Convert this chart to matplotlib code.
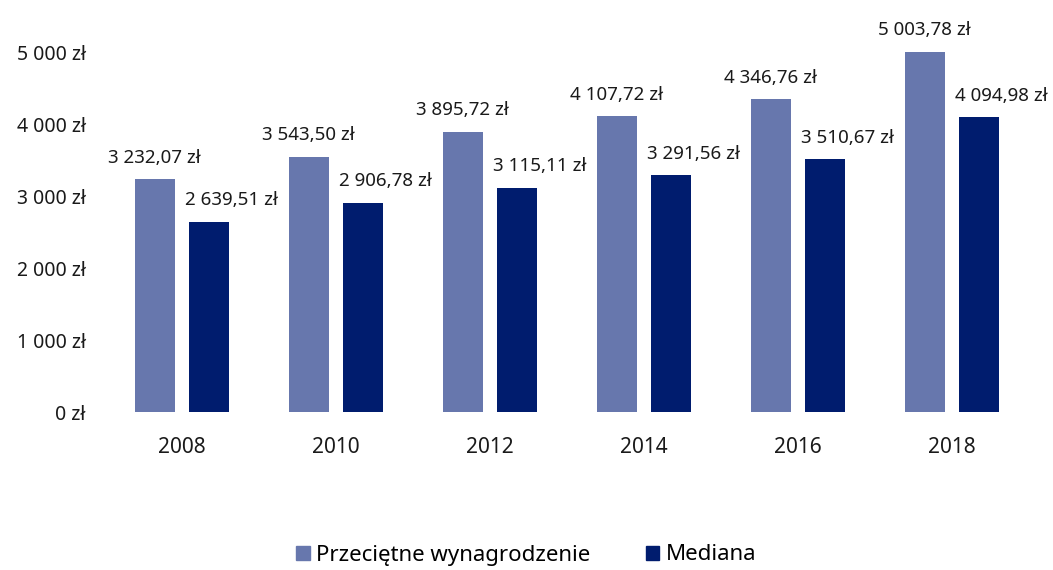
import matplotlib.pyplot as plt
from matplotlib.patches import Patch

plt.rcParams['font.family'] = ['Noto Sans', 'DejaVu Sans']

years = ["2008", "2010", "2012", "2014", "2016", "2018"]
average = [3232.07, 3543.50, 3895.72, 4107.72, 4346.76, 5003.78]
median = [2639.51, 2906.78, 3115.11, 3291.56, 3510.67, 4094.98]
yticks = [0, 1000, 2000, 3000, 4000, 5000]

light = "#6777ad"
dark = "#001c6e"
txt = "#1a1a1a"


def pln(v, dec=2):
    s = f"{v:,.{dec}f}".replace(",", " ").replace(".", ",")
    return s + " zł"


fig = plt.figure(figsize=(10.53, 5.70), dpi=100)
ax = fig.add_axes([105 / 1053, (570 - 412) / 570, 924 / 1053, 396 / 570])

x = list(range(len(years)))
w = 0.26
off = 0.178
xa = [i - off for i in x]
xm = [i + off for i in x]
ax.bar(xa, average, width=w, color=light)
ax.bar(xm, median, width=w, color=dark)

for xi, v in zip(xa, average):
    ax.annotate(pln(v), (xi, v), xytext=(0, 9), textcoords="offset points",
                ha="center", va="bottom", fontsize=13.5, color=txt)
for xi, v in zip(xm, median):
    ax.annotate(pln(v), (xi - w / 2, v), xytext=(-3, 9), textcoords="offset points",
                ha="left", va="bottom", fontsize=13.5, color=txt)

ax.set_xlim(-0.5, 5.5)
ax.set_ylim(0, 5500)
ax.set_xticks(x)
ax.set_xticklabels(years, fontsize=15)
ax.set_yticks(yticks)
ax.set_yticklabels([pln(t, 0) for t in yticks], fontsize=14)
ax.tick_params(axis="both", length=0, colors=txt)
ax.tick_params(axis="y", pad=14)
ax.tick_params(axis="x", pad=18)
for s in ax.spines.values():
    s.set_visible(False)

handles = [Patch(color=light, label="Przeciętne wynagrodzenie"),
           Patch(color=dark, label="Mediana")]
fig.legend(handles=handles, loc="center", bbox_to_anchor=(0.5, (570 - 555) / 570),
           ncol=2, frameon=False, fontsize=16, handlelength=0.6, handleheight=0.6,
           handletextpad=0.3, columnspacing=2.5)

fig.savefig("out.png", dpi=100)
